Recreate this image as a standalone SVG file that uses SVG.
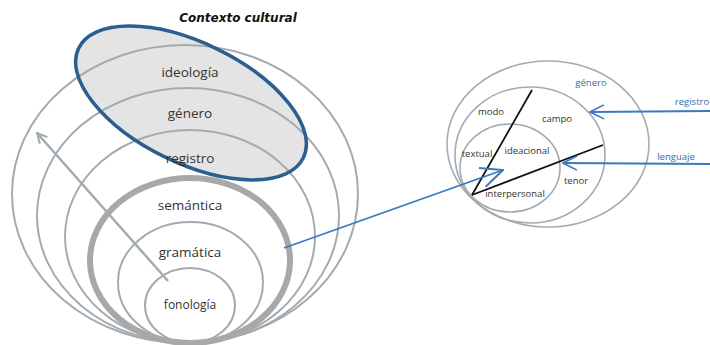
<svg xmlns="http://www.w3.org/2000/svg" width="710" height="345" viewBox="0 0 710 345">
<defs>
<style>
.ring{fill:none;stroke:#a3abb1;stroke-width:2}
.thick{fill:none;stroke:#a8a8a8;stroke-width:6}
.rring{fill:none;stroke:#a3abb1;stroke-width:1.6}
.lbl{font-family:"Open Sans","Liberation Sans",sans-serif;font-size:13.5px;fill:#333;text-anchor:middle}
.sm{font-family:"Open Sans","Liberation Sans",sans-serif;font-size:9.5px;fill:#333;text-anchor:middle}
.bl{font-family:"Open Sans","Liberation Sans",sans-serif;font-size:9.5px;fill:#2f6ea8;text-anchor:middle}
.blue{fill:none;stroke:#3a78c0;stroke-width:1.8}
</style>
<marker id="ga" viewBox="0 0 12 12" refX="11" refY="6" markerWidth="12" markerHeight="12" markerUnits="userSpaceOnUse" orient="auto">
<path d="M1,1 L11,6 L1,11" fill="none" stroke="#a3abb1" stroke-width="2"/>
</marker>
<marker id="ba" viewBox="0 0 24 24" refX="23" refY="12" markerWidth="24" markerHeight="24" markerUnits="userSpaceOnUse" orient="auto">
<path d="M1,2 L23,12 L1,22" fill="none" stroke="#3a78c0" stroke-width="2"/>
</marker>
<marker id="bs" viewBox="0 0 16 16" refX="15" refY="8" markerWidth="16" markerHeight="16" markerUnits="userSpaceOnUse" orient="auto">
<path d="M1,1 L15,8 L1,15" fill="none" stroke="#3a78c0" stroke-width="1.6"/>
</marker>
</defs>
<rect width="710" height="345" fill="#fff"/>

<g id="blue-fill">
<ellipse cx="191" cy="103" rx="125" ry="60" transform="rotate(26 191 103)" fill="#e4e4e4"/>
</g>

<g id="left-rings">
<ellipse id="outer" class="ring" cx="185" cy="194" rx="173" ry="149"/>
<ellipse id="ring-genero" class="ring" cx="188" cy="215.5" rx="151" ry="127.5"/>
<ellipse id="ring-registro" class="ring" cx="190" cy="236.5" rx="125" ry="106.5"/>
<ellipse id="ring-semantica" class="thick" cx="190" cy="260.5" rx="100" ry="82.5"/>
<ellipse id="ring-gramatica" class="ring" cx="190.5" cy="282.5" rx="72.5" ry="60.5"/>
<ellipse id="ring-fonologia" class="ring" cx="190" cy="305.5" rx="45" ry="37.5"/>
</g>

<g id="contexto">
<ellipse cx="191" cy="103" rx="125" ry="60" transform="rotate(26 191 103)" fill="none" stroke="#2b5f8f" stroke-width="3.5"/>
<text x="238" y="22" font-family="'DejaVu Sans',sans-serif" font-size="12" font-weight="bold" font-style="italic" fill="#111" text-anchor="middle">Contexto cultural</text>
</g>

<g id="left-labels">
<text class="lbl" x="190" y="77">ideología</text>
<text class="lbl" x="190" y="118">género</text>
<text class="lbl" x="190" y="163">registro</text>
<text class="lbl" x="190" y="210">semántica</text>
<text class="lbl" x="190" y="257">gramática</text>
<text class="lbl" x="190" y="309" style="font-size:12px">fonología</text>
</g>

<g id="right-diagram">
<ellipse id="r-genero" class="rring" cx="548" cy="144" rx="101" ry="83"/>
<ellipse id="r-registro" class="rring" cx="530" cy="155" rx="75" ry="68"/>
<ellipse id="r-lenguaje" class="rring" cx="510" cy="168" rx="50" ry="44"/>
<line x1="472" y1="195" x2="532" y2="90" stroke="#111" stroke-width="1.8"/>
<line x1="472" y1="195" x2="603" y2="145" stroke="#111" stroke-width="1.8"/>
<text class="bl" x="591" y="86">género</text>
<text class="sm" x="491" y="115">modo</text>
<text class="sm" x="557" y="122">campo</text>
<text class="sm" x="477" y="157">textual</text>
<text class="sm" x="527" y="154">ideacional</text>
<text class="sm" x="576" y="184">tenor</text>
<text class="sm" x="515" y="197">interpersonal</text>
<text class="bl" x="692" y="105">registro</text>
<text class="bl" x="676" y="160">lenguaje</text>
</g>

<g id="connectors">
<line x1="168" y1="281" x2="37" y2="133" stroke="#a3abb1" stroke-width="2.5" marker-end="url(#ga)"/>
<line class="blue" x1="284" y1="248" x2="503" y2="170" marker-end="url(#ba)"/>
<line class="blue" x1="710" y1="111" x2="590" y2="112" marker-end="url(#bs)"/>
<line class="blue" x1="710" y1="164" x2="563" y2="163" marker-end="url(#bs)"/>
</g>
</svg>
